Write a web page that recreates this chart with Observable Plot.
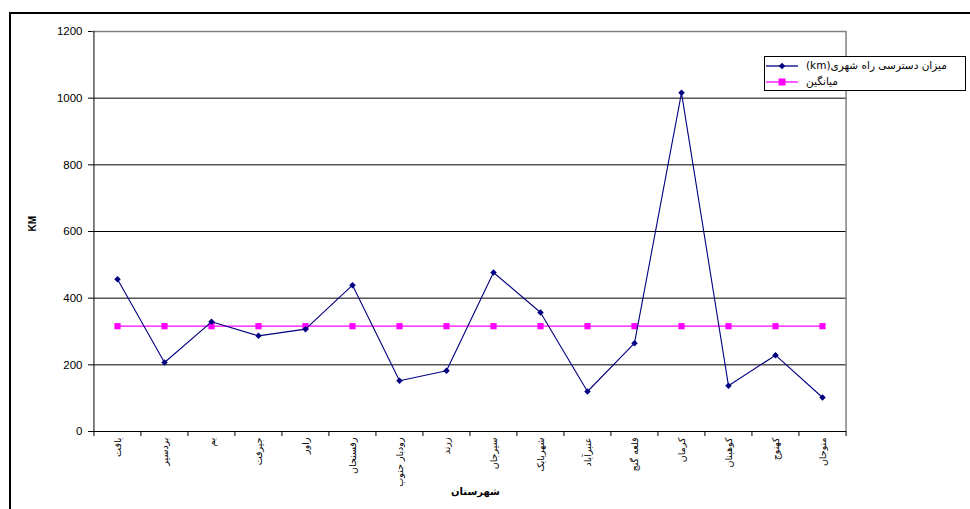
<!DOCTYPE html>
<html>
<head>
<meta charset="utf-8">
<script src="https://cdn.jsdelivr.net/npm/d3@7"></script>
<script src="https://cdn.jsdelivr.net/npm/@observablehq/plot@0.6"></script>
<style>
  html, body { margin: 0; padding: 0; background: #fff; }
  #wrap { position: relative; width: 970px; height: 509px; overflow: hidden; font-family: "Liberation Sans", "DejaVu Sans", sans-serif; }
  #wrap svg { position: absolute; left: 0; top: 0; }
  .frameL { position: absolute; left: 9px; top: 12px; width: 2px; height: 520px; background: #000; }
  .frameT { position: absolute; left: 9px; top: 12px; width: 980px; height: 2px; background: #000; }
  #legend { position: absolute; left: 764px; top: 56px; width: 202px; height: 35px; border: 1px solid #000; background: #fff; box-sizing: border-box; }
  .row { position: absolute; left: 0; right: 0; height: 16px; }
  .row svg { position: absolute; left: 5px; top: 0; }
  .row span { position: absolute; left: 41px; top: 1px; font-size: 10.5px; direction: rtl; unicode-bidi: plaintext; white-space: nowrap; font-family: "DejaVu Sans", sans-serif; }
</style>
</head>
<body>
<div id="wrap">
  <div class="frameL"></div>
  <div class="frameT"></div>
</div>
<script>
const cities = ["بافت","بردسیر","بم","جیرفت","راور","رفسنجان","رودبار جنوب","زرند","سیرجان","شهربابک","عنبرآباد","قلعه گنج","کرمان","کوهبنان","کهنوج","منوجان"];
const access = [457,207,329,287,307,439,152,182,477,357,120,265,1016,137,229,102];
const average = [316,316,316,316,316,316,316,316,316,316,316,316,316,316,316,316];
const yTicks = [0,200,400,600,800,1000,1200];
const seriesNames = ["میزان دسترسی راه شهری(km)", "میانگین"];
const xTitle = "شهرستان";
const yTitle = "KM";

const rows = cities.map((c, i) => ({city: c, access: access[i], average: average[i]}));

const W = 970, H = 509, mL = 92, mR = 124, mT = 31, mB = 78;
const step = (W - mL - mR) / cities.length;

const chart = Plot.plot({
  width: W, height: H,
  marginLeft: mL, marginRight: mR, marginTop: mT, marginBottom: mB,
  style: {fontFamily: "'Liberation Sans','DejaVu Sans',sans-serif", fontSize: "11px", background: "transparent", color: "#000"},
  x: {type: "point", domain: cities, padding: 0.5},
  y: {domain: [0, 1200]},
  marks: [
    Plot.gridY(yTicks.slice(1, -1), {stroke: "#000", strokeOpacity: 1}),
    Plot.ruleY([1200], {stroke: "#808080", strokeWidth: 1.3}),
    Plot.ruleX([cities[cities.length - 1]], {dx: step / 2, y1: 0, y2: 1200, stroke: "#808080", strokeWidth: 1.5}),
    Plot.ruleX([cities[0]], {dx: -step / 2, y1: 0, y2: 1200, stroke: "#000"}),
    Plot.ruleY([0], {stroke: "#000"}),
    Plot.axisY(yTicks, {tickSize: 4, tickPadding: 6, label: null, fontSize: 11.5, tickFormat: d => String(d)}),
    Plot.axisX(cities, {tickSize: 5, tickFormat: () => "", dx: -step / 2, label: null}),
    Plot.axisX([cities[cities.length - 1]], {tickSize: 5, tickFormat: () => "", dx: step / 2, label: null}),
    Plot.axisX(cities, {tickSize: 0, tickRotate: -90, tickPadding: 6, fontSize: 9.5, label: null, fontFamily: "'DejaVu Sans',sans-serif"}),
    Plot.text([yTitle], {frameAnchor: "left", dx: -60, rotate: -90, fontWeight: "bold", fontSize: 10}),
    Plot.text([xTitle], {frameAnchor: "bottom", dx: 6, dy: 63, fontWeight: "bold", fontSize: 10, fontFamily: "'DejaVu Sans',sans-serif"}),
    Plot.line(rows, {x: "city", y: "average", stroke: "#ff00ff", strokeWidth: 1.3}),
    Plot.dot(rows, {x: "city", y: "average", symbol: "square", fill: "#ff00ff", r: 3.5, stroke: "none"}),
    Plot.line(rows, {x: "city", y: "access", stroke: "#000080", strokeWidth: 1.1}),
    Plot.dot(rows, {x: "city", y: "access", symbol: "diamond2", fill: "#000080", r: 2.9, stroke: "none"})
  ]
});
const wrap = document.getElementById("wrap");
wrap.appendChild(chart);

// legend
const legend = document.createElement("div");
legend.id = "legend";
const colors = ["#000080", "#ff00ff"];
const shapes = ["diamond", "square"];
seriesNames.forEach((name, i) => {
  const row = document.createElement("div");
  row.className = "row";
  row.style.top = (i === 0 ? 1 : 17) + "px";
  const sw = d3.create("svg").attr("width", 34).attr("height", 16);
  sw.append("line").attr("x1", 1).attr("x2", 33).attr("y1", 8).attr("y2", 8).attr("stroke", colors[i]).attr("stroke-width", 1.3);
  if (shapes[i] === "diamond") {
    sw.append("path").attr("d", d3.symbol(d3.symbolDiamond2, 26)()).attr("transform", "translate(17,8)").attr("fill", colors[i]);
  } else {
    sw.append("rect").attr("x", 13.5).attr("y", 4.5).attr("width", 7).attr("height", 7).attr("fill", colors[i]);
  }
  row.appendChild(sw.node());
  const t = document.createElement("span");
  t.textContent = name;
  row.appendChild(t);
  legend.appendChild(row);
});
wrap.appendChild(legend);
</script>
</body>
</html>
